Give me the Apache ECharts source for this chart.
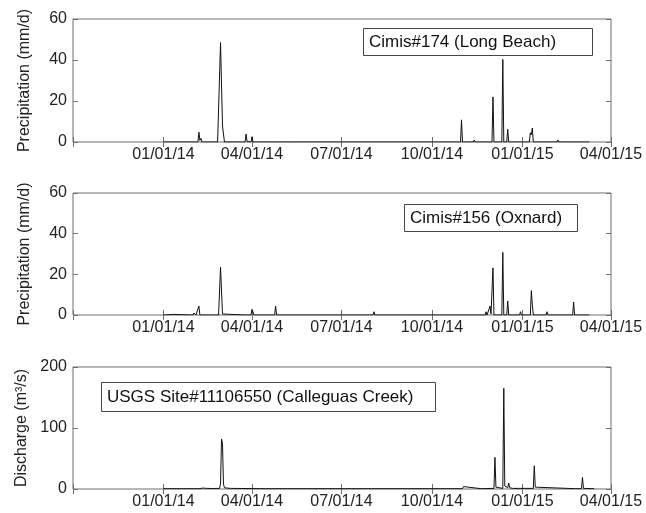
<!DOCTYPE html>
<html>
<head>
<meta charset="utf-8">
<script src="https://cdn.jsdelivr.net/npm/echarts@6/dist/echarts.min.js"></script>
<style>html,body{margin:0;padding:0;background:#fff;}#chart{width:646px;height:513px;}</style>
</head>
<body>
<div id="chart"></div>
<script>
// Axis range and quarterly ticks
const xMinDate = '2013-10-01';
const xMaxDate = '2015-04-01';
const tickDates = ['2013-10-01','2014-01-01','2014-04-01','2014-07-01','2014-10-01','2015-01-01','2015-04-01'];
const labelDates = ['2014-01-01','2014-04-01','2014-07-01','2014-10-01','2015-01-01','2015-04-01'];

// Panel titles
const names = ['Cimis#174 (Long Beach)', 'Cimis#156 (Oxnard)', 'USGS Site#11106550 (Calleguas Creek)'];
const yNames = ['Precipitation (mm/d)', 'Precipitation (mm/d)', 'Discharge (m³/s)'];

// Cimis#174 Long Beach daily precipitation (mm/d)
const lbDates = ['2014-01-01','2014-01-13','2014-01-14','2014-01-15','2014-01-22','2014-01-23','2014-01-24',
 '2014-02-01','2014-02-02','2014-02-03','2014-02-05','2014-02-06','2014-02-07','2014-02-08','2014-02-09',
 '2014-02-25','2014-02-28','2014-03-02','2014-03-04',
 '2014-03-25','2014-03-26','2014-03-27','2014-03-28','2014-03-29','2014-03-31','2014-04-01','2014-04-02',
 '2014-04-11','2014-04-12','2014-04-13','2014-04-24','2014-04-25','2014-04-26','2014-05-08','2014-05-09','2014-05-10',
 '2014-05-17','2014-05-18','2014-05-19','2014-05-26','2014-05-27','2014-05-28',
 '2014-08-06','2014-08-07','2014-08-08','2014-10-06','2014-10-07','2014-10-08',
 '2014-10-30','2014-10-31','2014-11-01','2014-11-12','2014-11-13','2014-11-14','2014-11-22','2014-11-23','2014-11-24',
 '2014-12-01','2014-12-02','2014-12-03','2014-12-11','2014-12-12','2014-12-13','2014-12-16','2014-12-17','2014-12-18',
 '2015-01-08','2015-01-09','2015-01-10','2015-01-11','2015-01-12',
 '2015-01-25','2015-01-26','2015-01-27','2015-02-05','2015-02-06','2015-02-07',
 '2015-02-21','2015-02-22','2015-02-23','2015-02-26','2015-02-27','2015-02-28','2015-03-10'];
const lbValues = [0,0,0.4,0,0,0.3,0,
 0,0.8,0,0,4.8,0.8,1.8,0,
 0,48.5,7.8,0,
 0,3.9,0.3,1.2,0,0,2.6,0,
 0,0.4,0,0,0.3,0,0,0.3,0,
 0,0.3,0,0,0.3,0,
 0,0.4,0,0,0.3,0,
 0,10.8,0,0,1,0,0,0.6,0,
 0,22,0,0,40.3,0,0,6.2,0,
 0,4.5,3.5,6.8,0,
 0,0.5,0,0,1,0,
 0,0.5,0,0,0.7,0,0];

// Cimis#156 Oxnard daily precipitation (mm/d)
const oxDates = ['2014-01-01','2014-01-02','2014-01-03','2014-01-11','2014-01-12',
 '2014-01-31','2014-02-01','2014-02-02','2014-02-03','2014-02-05','2014-02-06','2014-02-07',
 '2014-02-11','2014-02-12','2014-02-13','2014-02-21','2014-02-22','2014-02-23',
 '2014-02-26','2014-02-28','2014-03-02','2014-03-03',
 '2014-03-25','2014-03-26','2014-03-27','2014-03-31','2014-04-01','2014-04-02','2014-04-03',
 '2014-04-24','2014-04-25','2014-04-26',
 '2014-08-02','2014-08-03','2014-08-04','2014-09-06','2014-09-07','2014-09-08',
 '2014-11-24','2014-11-25','2014-11-26','2014-11-28','2014-11-29','2014-11-30','2014-12-01','2014-12-02','2014-12-03',
 '2014-12-11','2014-12-12','2014-12-13','2014-12-16','2014-12-17','2014-12-18','2014-12-22','2014-12-23','2014-12-24',
 '2014-12-29','2014-12-30','2014-12-31',
 '2015-01-09','2015-01-10','2015-01-11','2015-01-12',
 '2015-01-25','2015-01-26','2015-01-27','2015-01-28','2015-01-29','2015-01-30','2015-02-05','2015-02-06','2015-02-07',
 '2015-02-21','2015-02-22','2015-02-23','2015-03-10'];
const oxValues = [0,0.4,0,0.3,0,
 0,1,1.6,0,0,4.4,0,
 0,0.3,0,0,0.3,0,
 0,23.5,0.5,0,
 0,0.8,0,0,2.8,2.2,0,
 0,4.4,0,
 0,1.6,0,0,0.5,0,
 0,1.6,0,0,4.4,0.5,0,23.2,0,
 0,30.8,0,0,6.9,0,0,0.3,0,
 0,1.6,0,
 0,12,5,0,
 0,1.6,0,0,0.3,0,0,0.3,0,
 0,6.4,0,0];

// USGS 11106550 Calleguas Creek daily discharge (m3/s)
const cgDates = ['2014-01-01','2014-02-06','2014-02-07','2014-02-08','2014-02-10','2014-02-14','2014-02-20',
 '2014-02-27','2014-02-28','2014-03-01','2014-03-02','2014-03-03','2014-03-04','2014-03-10','2014-04-15',
 '2014-11-01','2014-11-02','2014-11-03','2014-11-20','2014-11-21','2014-11-22',
 '2014-12-03','2014-12-04','2014-12-05','2014-12-06','2014-12-12','2014-12-13','2014-12-14','2014-12-17','2014-12-18','2014-12-19','2014-12-22',
 '2015-01-12','2015-01-13','2015-01-14','2015-01-15','2015-02-24','2015-02-25','2015-02-26',
 '2015-03-02','2015-03-03','2015-03-04','2015-03-15'];
const cgValues = [0.5,0.5,3,2,1.5,1,0.8,
 1,8,82,75,8,2,1,0.5,
 0.5,4,0.8,0.5,1.5,0.5,
 1,52,3,1,1,165,5,2,10,2,1,
 1,38,3,1,0.5,3,0.5,
 0.5,19,1,0.5];

function ts(s){ const p = s.split('-'); return new Date(+p[0], +p[1]-1, +p[2]).getTime(); }
function pad(n){ return (n < 10 ? '0' : '') + n; }
function fmt(v){ const d = new Date(v); return pad(d.getMonth()+1) + '/' + pad(d.getDate()) + '/' + String(d.getFullYear()).slice(2); }
function pairs(ds, vs){ return ds.map((d,i) => [ts(d), vs[i]]); }

const FONT = 'Liberation Sans, Arial, Helvetica, sans-serif';
const AXC = '#6e6e6e';
const TXC = '#222';
const tickVals = tickDates.map(ts);
const labelVals = labelDates.map(ts);

const grids = [
  {left: 73, top: 19, width: 538, height: 123},
  {left: 73, top: 193, width: 538, height: 122},
  {left: 73, top: 367, width: 538, height: 122}
].map(g => Object.assign(g, {show: true, borderColor: AXC, borderWidth: 1, backgroundColor: 'transparent'}));

const yRanges = [[0,60,20],[0,60,20],[0,200,100]];

const xAxes = [], yAxes = [];
for (let i = 0; i < 3; i++) {
  xAxes.push({
    type: 'value', gridIndex: i, min: ts(xMinDate), max: ts(xMaxDate), position: 'bottom',
    axisLine: {show: false}, splitLine: {show: false},
    axisTick: {show: true, inside: true, length: 5, lineStyle: {color: AXC}, customValues: tickVals},
    axisLabel: {show: true, customValues: labelVals, formatter: fmt, fontSize: 16, color: TXC, fontFamily: FONT, margin: 5, hideOverlap: false}
  });
  xAxes.push({
    type: 'value', gridIndex: i, min: ts(xMinDate), max: ts(xMaxDate), position: 'top',
    axisLine: {show: false}, splitLine: {show: false},
    axisTick: {show: true, inside: true, length: 5, lineStyle: {color: AXC}, customValues: tickVals},
    axisLabel: {show: false}
  });
  const r = yRanges[i];
  yAxes.push({
    type: 'value', gridIndex: i, min: r[0], max: r[1], interval: r[2], position: 'left',
    name: yNames[i], nameLocation: 'middle', nameGap: 40,
    nameTextStyle: {fontSize: 16, color: TXC, fontFamily: FONT},
    axisLine: {show: false}, splitLine: {show: false},
    axisTick: {show: true, inside: true, length: 5, lineStyle: {color: AXC}},
    axisLabel: {fontSize: 16, color: TXC, fontFamily: FONT, margin: 6}
  });
  yAxes.push({
    type: 'value', gridIndex: i, min: r[0], max: r[1], interval: r[2], position: 'right',
    axisLine: {show: false}, splitLine: {show: false},
    axisTick: {show: true, inside: true, length: 5, lineStyle: {color: AXC}},
    axisLabel: {show: false}
  });
}

const seriesData = [pairs(lbDates, lbValues), pairs(oxDates, oxValues), pairs(cgDates, cgValues)];
const series = seriesData.map((d, i) => ({
  type: 'line', name: names[i], xAxisIndex: i*2, yAxisIndex: i*2, data: d,
  showSymbol: false, symbol: 'none', lineStyle: {color: '#111', width: 1}, z: 3
}));

const boxes = [
  {left: 363, top: 28, w: 230, lh: 20},
  {left: 404, top: 204, w: 174, lh: 20},
  {left: 101, top: 382, w: 335, lh: 22}
];
const titles = boxes.map((b, i) => ({
  text: names[i], left: b.left, top: b.top,
  padding: [4, 0, 4, 6], borderColor: '#444', borderWidth: 1, backgroundColor: '#fff',
  textStyle: {fontSize: 17, fontWeight: 'normal', color: '#111', fontFamily: FONT, width: b.w - 6, lineHeight: b.lh}
}));

const chart = echarts.init(document.getElementById('chart'), null, {renderer: 'canvas'});
chart.setOption({
  animation: false,
  backgroundColor: '#fff',
  title: titles,
  grid: grids,
  xAxis: xAxes,
  yAxis: yAxes,
  series: series
});
</script>
</body>
</html>
